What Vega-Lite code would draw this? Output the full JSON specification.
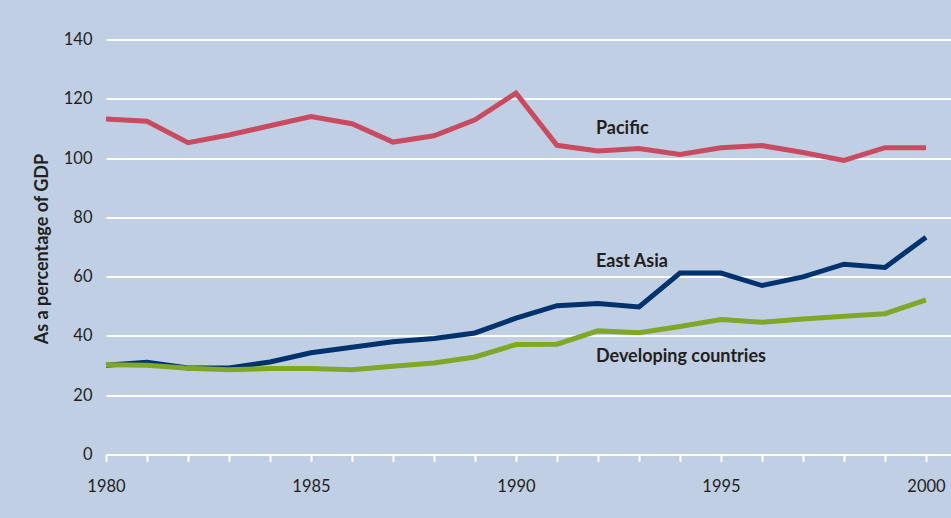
{
  "$schema": "https://vega.github.io/schema/vega-lite/v6.json",
  "width": 845,
  "height": 415,
  "autosize": {"type": "none"},
  "padding": {"left": 106, "top": 39.5, "right": 0, "bottom": 63.5},
  "background": "#c1cfe5",
  "config": {
    "view": {"stroke": null},
    "font": "Lato",
    "axis": {"labelFont": "Lato", "titleFont": "Lato", "labelColor": "#231f20", "titleColor": "#231f20"}
  },
  "layer": [
    {
      "data": {
        "values": [
          {"year": 1980, "series": "Pacific", "value": 113.2},
          {"year": 1981, "series": "Pacific", "value": 112.4},
          {"year": 1982, "series": "Pacific", "value": 105.2},
          {"year": 1983, "series": "Pacific", "value": 107.8},
          {"year": 1984, "series": "Pacific", "value": 110.9},
          {"year": 1985, "series": "Pacific", "value": 114.0},
          {"year": 1986, "series": "Pacific", "value": 111.6},
          {"year": 1987, "series": "Pacific", "value": 105.4},
          {"year": 1988, "series": "Pacific", "value": 107.5},
          {"year": 1989, "series": "Pacific", "value": 112.9},
          {"year": 1990, "series": "Pacific", "value": 121.9},
          {"year": 1991, "series": "Pacific", "value": 104.3},
          {"year": 1992, "series": "Pacific", "value": 102.4},
          {"year": 1993, "series": "Pacific", "value": 103.2},
          {"year": 1994, "series": "Pacific", "value": 101.2},
          {"year": 1995, "series": "Pacific", "value": 103.5},
          {"year": 1996, "series": "Pacific", "value": 104.2},
          {"year": 1997, "series": "Pacific", "value": 101.9},
          {"year": 1998, "series": "Pacific", "value": 99.2},
          {"year": 1999, "series": "Pacific", "value": 103.5},
          {"year": 2000, "series": "Pacific", "value": 103.5},
          {"year": 1980, "series": "East Asia", "value": 30.1},
          {"year": 1981, "series": "East Asia", "value": 31.1},
          {"year": 1982, "series": "East Asia", "value": 29.2},
          {"year": 1983, "series": "East Asia", "value": 29.2},
          {"year": 1984, "series": "East Asia", "value": 31.2},
          {"year": 1985, "series": "East Asia", "value": 34.3},
          {"year": 1986, "series": "East Asia", "value": 36.2},
          {"year": 1987, "series": "East Asia", "value": 38.0},
          {"year": 1988, "series": "East Asia", "value": 39.1},
          {"year": 1989, "series": "East Asia", "value": 41.0},
          {"year": 1990, "series": "East Asia", "value": 46.0},
          {"year": 1991, "series": "East Asia", "value": 50.2},
          {"year": 1992, "series": "East Asia", "value": 50.9},
          {"year": 1993, "series": "East Asia", "value": 49.8},
          {"year": 1994, "series": "East Asia", "value": 61.2},
          {"year": 1995, "series": "East Asia", "value": 61.2},
          {"year": 1996, "series": "East Asia", "value": 57.0},
          {"year": 1997, "series": "East Asia", "value": 59.9},
          {"year": 1998, "series": "East Asia", "value": 64.2},
          {"year": 1999, "series": "East Asia", "value": 63.1},
          {"year": 2000, "series": "East Asia", "value": 73.3},
          {"year": 1980, "series": "Developing countries", "value": 30.3},
          {"year": 1981, "series": "Developing countries", "value": 30.1},
          {"year": 1982, "series": "Developing countries", "value": 29.1},
          {"year": 1983, "series": "Developing countries", "value": 28.6},
          {"year": 1984, "series": "Developing countries", "value": 29.0},
          {"year": 1985, "series": "Developing countries", "value": 29.0},
          {"year": 1986, "series": "Developing countries", "value": 28.6},
          {"year": 1987, "series": "Developing countries", "value": 29.8},
          {"year": 1988, "series": "Developing countries", "value": 30.9},
          {"year": 1989, "series": "Developing countries", "value": 32.9},
          {"year": 1990, "series": "Developing countries", "value": 37.1},
          {"year": 1991, "series": "Developing countries", "value": 37.2},
          {"year": 1992, "series": "Developing countries", "value": 41.7},
          {"year": 1993, "series": "Developing countries", "value": 41.1},
          {"year": 1994, "series": "Developing countries", "value": 43.2},
          {"year": 1995, "series": "Developing countries", "value": 45.5},
          {"year": 1996, "series": "Developing countries", "value": 44.6},
          {"year": 1997, "series": "Developing countries", "value": 45.7},
          {"year": 1998, "series": "Developing countries", "value": 46.6},
          {"year": 1999, "series": "Developing countries", "value": 47.5},
          {"year": 2000, "series": "Developing countries", "value": 52.2}
        ]
      },
      "mark": {"type": "line", "strokeWidth": 5, "strokeCap": "butt", "strokeJoin": "miter", "clip": false},
      "encoding": {
        "x": {
          "field": "year",
          "type": "quantitative",
          "scale": {"domain": [1980, 2000.61], "nice": false, "zero": false},
          "axis": {
            "title": null,
            "values": [1980, 1981, 1982, 1983, 1984, 1985, 1986, 1987, 1988, 1989, 1990, 1991, 1992, 1993, 1994, 1995, 1996, 1997, 1998, 1999, 2000],
            "labelExpr": "datum.value % 5 === 0 ? datum.value : ''",
            "format": "d",
            "grid": false,
            "domainColor": "white",
            "domainWidth": 2,
            "tickColor": "white",
            "tickWidth": 2,
            "tickSize": 7,
            "labelPadding": 17,
            "labelFontSize": 16.5,
            "labelBaseline": "top",
            "labelFlush": false,
            "labelOverlap": false
          }
        },
        "y": {
          "field": "value",
          "type": "quantitative",
          "scale": {"domain": [0, 140], "nice": false},
          "axis": {
            "title": "As a percentage of GDP",
            "values": [0, 20, 40, 60, 80, 100, 120, 140],
            "domain": false,
            "ticks": false,
            "grid": true,
            "gridColor": "white",
            "gridWidth": 2,
            "gridOpacity": 1,
            "labelPadding": 14,
            "labelFontSize": 16.5,
            "titleFontSize": 18,
            "titleFontWeight": "bold",
            "titleX": -64,
            "titleY": 209,
            "titleAngle": -90,
            "titleAlign": "center",
            "titleBaseline": "middle"
          }
        },
        "color": {
          "field": "series",
          "type": "nominal",
          "scale": {"domain": ["Pacific", "East Asia", "Developing countries"], "range": ["#c94b5f", "#00336e", "#80a828"]},
          "legend": null
        }
      }
    },
    {
      "data": {
        "values": [
          {"label": "Pacific", "year": 1991.95, "value": 109.7},
          {"label": "East Asia", "year": 1991.95, "value": 65.0},
          {"label": "Developing countries", "year": 1991.95, "value": 32.8}
        ]
      },
      "mark": {"type": "text", "align": "left", "baseline": "middle", "font": "Lato", "fontWeight": "bold", "fontSize": 18, "color": "#231f20"},
      "encoding": {
        "x": {"field": "year", "type": "quantitative"},
        "y": {"field": "value", "type": "quantitative"},
        "text": {"field": "label"}
      }
    }
  ]
}
